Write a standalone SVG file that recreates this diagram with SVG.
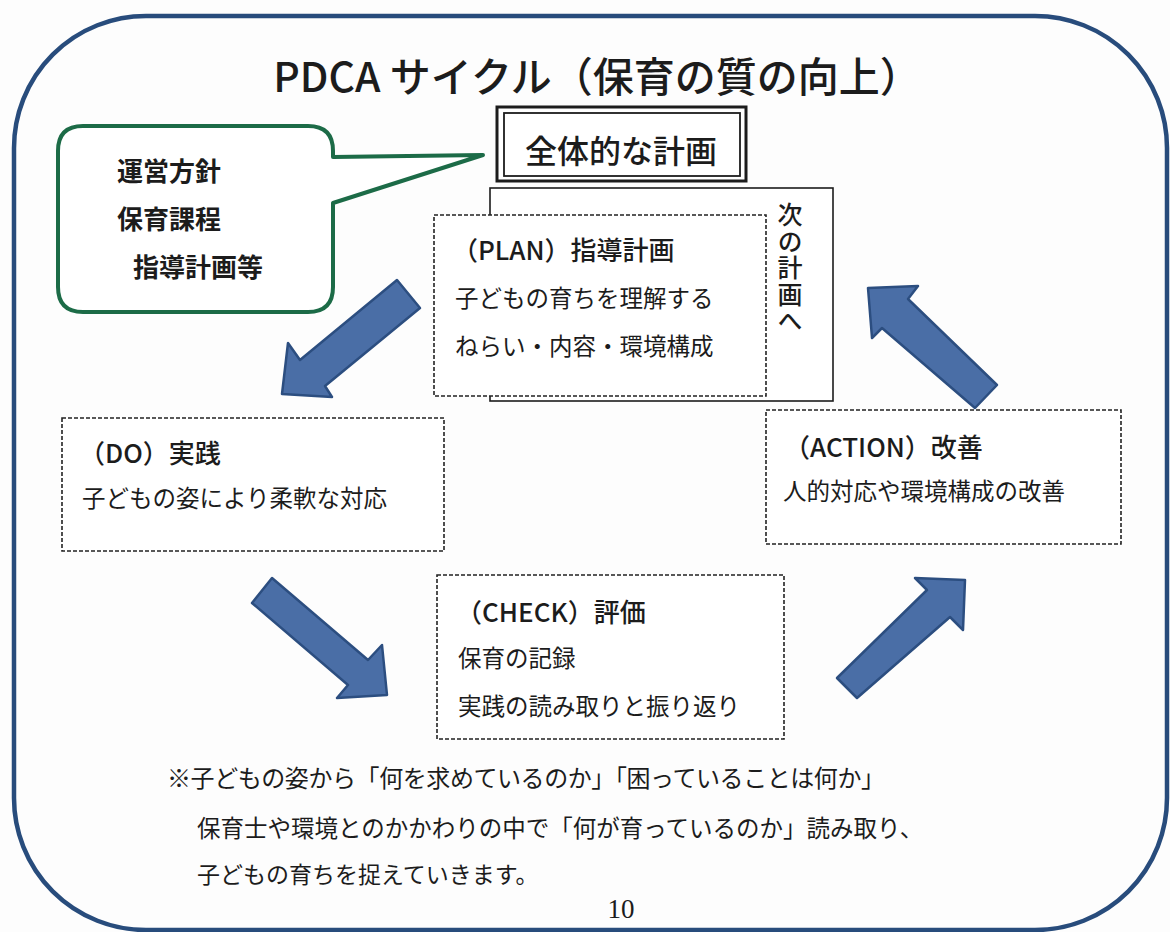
<svg xmlns="http://www.w3.org/2000/svg" width="1170" height="932" viewBox="0 0 1170 932">
<style>
text{font-family:"Noto Sans CJK JP","Noto Sans CJK SC",sans-serif;fill:#1c1c1c}
.hd{font-size:26px;font-weight:500}
.bd{font-size:23.5px}
.dash{fill:#fff;stroke:#222;stroke-width:1.6;stroke-dasharray:4 2}
.arr{fill:#4a6ea6;stroke:#2c4e80;stroke-width:2.5;stroke-linejoin:round}
</style>
<rect width="1170" height="932" fill="#fdfdfd"/>
<rect id="frame" x="14" y="16" width="1153" height="914" rx="132" ry="132" fill="none" stroke="#284c7c" stroke-width="4.5"/>
<text id="title" x="597" y="92" font-size="41" font-weight="500" text-anchor="middle">PDCA サイクル（保育の質の向上）</text>

<g id="bubble">
<path d="M83,126 H308 Q333,126 333,151 V157 L483,155 L333,203 V287 Q333,312 308,312 H83 Q58,312 58,287 V151 Q58,126 83,126 Z" fill="#fff" stroke="#1c6b47" stroke-width="4" stroke-linejoin="round"/>
<text x="117" y="181" font-size="26" font-weight="bold">運営方針</text>
<text x="117" y="229" font-size="26" font-weight="bold">保育課程</text>
<text x="133" y="277" font-size="26" font-weight="bold">指導計画等</text>
</g>

<g id="overall">
<rect x="497" y="107" width="249" height="74" fill="#fff" stroke="#1c1c1c" stroke-width="3"/>
<rect x="504" y="113" width="236" height="63" fill="none" stroke="#1c1c1c" stroke-width="1.8"/>
<text x="621" y="163" font-size="32" font-weight="500" text-anchor="middle">全体的な計画</text>
</g>

<g id="next">
<rect x="490" y="188" width="343" height="213" fill="#fff" stroke="#1c1c1c" stroke-width="1.6"/>
<text x="790" y="202" font-size="25" font-weight="500" writing-mode="vertical-rl" style="writing-mode:vertical-rl" letter-spacing="1.5">次の計画へ</text>
</g>

<g id="plan">
<rect class="dash" x="434" y="215" width="332" height="181"/>
<text class="hd" x="452" y="260">（PLAN）指導計画</text>
<text class="bd" x="455" y="307">子どもの育ちを理解する</text>
<text class="bd" x="455" y="355">ねらい・内容・環境構成</text>
</g>

<g id="do">
<rect class="dash" x="62" y="418" width="382" height="133"/>
<text class="hd" x="79" y="463">（DO）実践</text>
<text class="bd" x="82" y="507">子どもの姿により柔軟な対応</text>
</g>

<g id="action">
<rect class="dash" x="766" y="410" width="355" height="134"/>
<text class="hd" x="784" y="457">（ACTION）改善</text>
<text class="bd" x="783" y="500">人的対応や環境構成の改善</text>
</g>

<g id="check">
<rect class="dash" x="437" y="575" width="347" height="164"/>
<text class="hd" x="456" y="622">（CHECK）評価</text>
<text class="bd" x="458" y="667">保育の記録</text>
<text class="bd" x="458" y="715">実践の読み取りと振り返り</text>
</g>

<g id="connectors">
<polygon class="arr" points="397,280 300,360 288,343 282,394 332,397 325,386 420,308"/>
<polygon class="arr" points="272,578 368,660 382,645 387,695 337,698 348,685 252,603"/>
<polygon class="arr" points="965,580 963,630 950,617 857,698 837,678 927,590 915,578"/>
<polygon class="arr" points="868,288 918,286 908,299 997,385 975,408 882,328 872,338"/>
</g>

<g id="note">
<text x="167" y="787" font-size="24" textLength="718" lengthAdjust="spacing">※子どもの姿から「何を求めているのか」「困っていることは何か」</text>
<text x="197" y="837" font-size="23.5">保育士や環境とのかかわりの中で「何が育っているのか」読み取り、</text>
<text x="197" y="883" font-size="23">子どもの育ちを捉えていきます。</text>
</g>
<text id="page" x="621" y="918" style="font-family:'Liberation Serif',serif" font-size="27" text-anchor="middle">10</text>
</svg>
